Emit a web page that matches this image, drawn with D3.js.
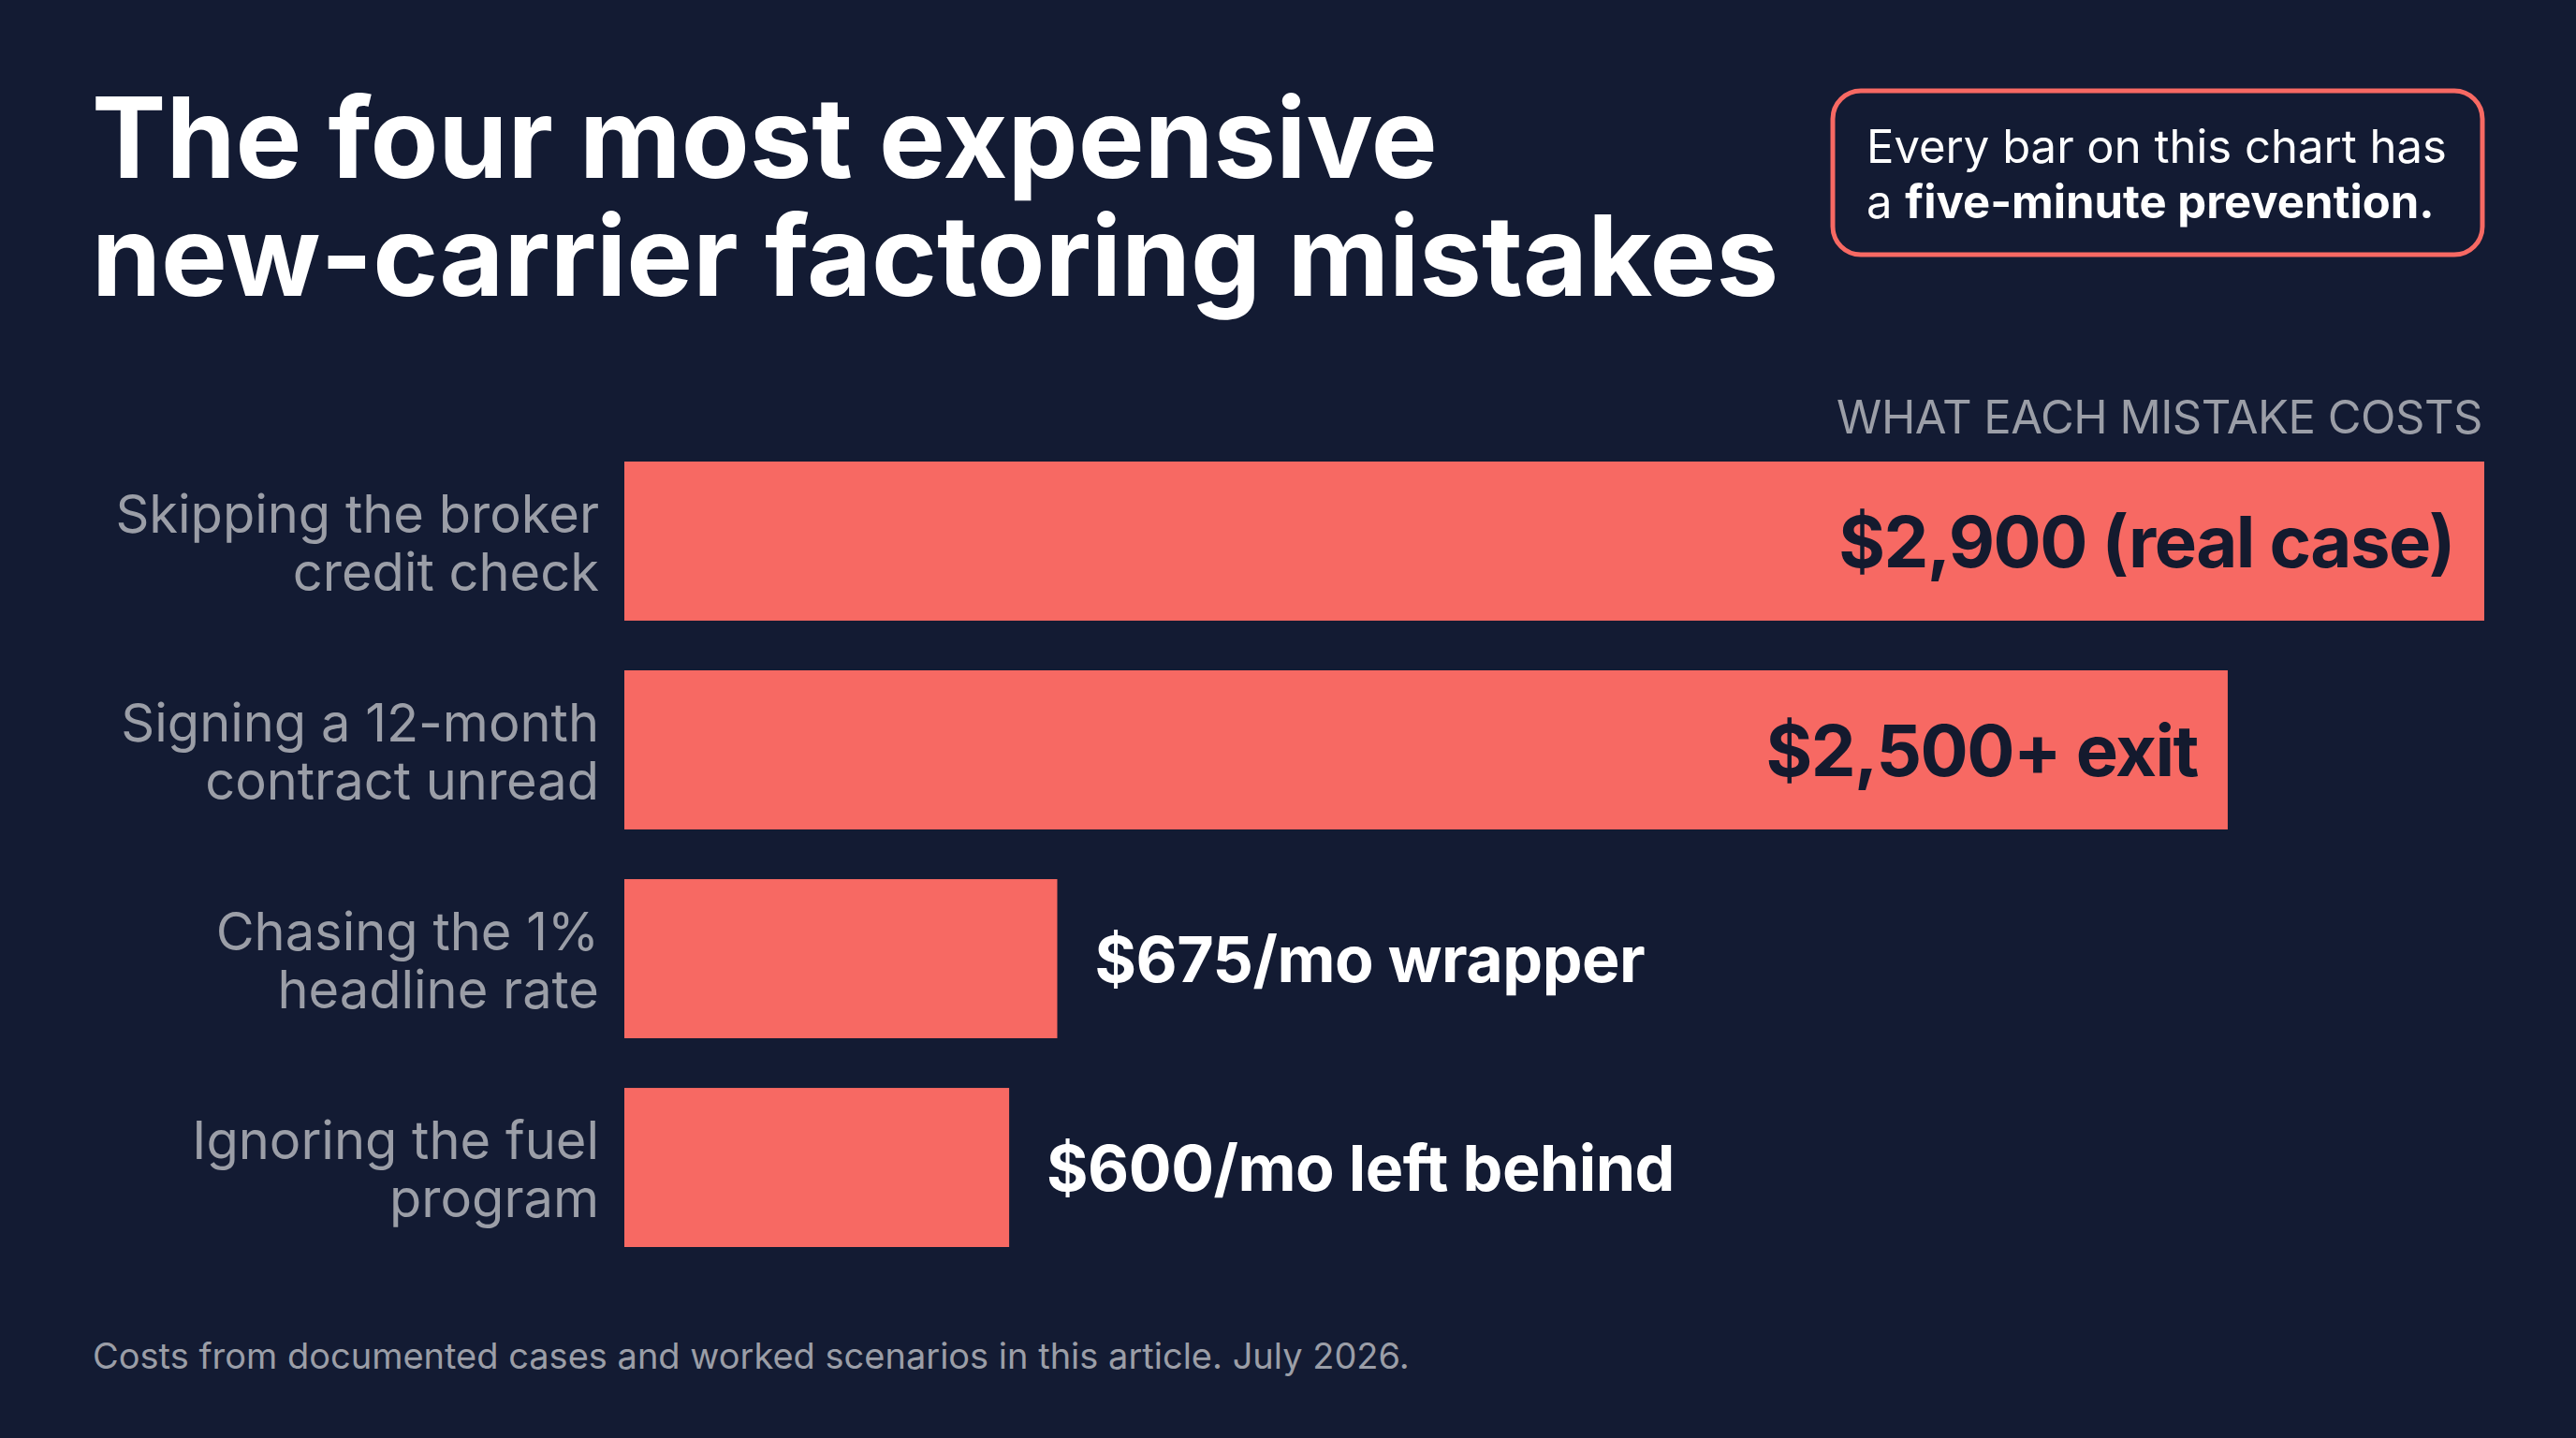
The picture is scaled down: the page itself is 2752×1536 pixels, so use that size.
<!DOCTYPE html>
<html>
<head>
<meta charset="utf-8">
<script src="https://cdn.jsdelivr.net/npm/d3@7"></script>
<style>
  html, body { margin: 0; padding: 0; background: #131b33; }
  svg { display: block; font-family: Inter, 'Noto Sans', sans-serif; }
</style>
</head>
<body>
<div id="chart"></div>
<script>
const w = 2752;
const h = 1536;

// data
const categories = [
  ['Skipping the broker', 'credit check'],
  ['Signing a 12-month', 'contract unread'],
  ['Chasing the 1%', 'headline rate'],
  ['Ignoring the fuel', 'program']
];
const costs = [2900, 2500, 675, 600];
const valueLabels = ['$2,900 (real case)', '$2,500+ exit', '$675/mo wrapper', '$600/mo left behind'];
const titleLines = ['The four most expensive', 'new-carrier factoring mistakes'];

const coral = '#f76963';
const navy = '#131b33';
const grey = '#9b9ea7';

const svg = d3.select('#chart')
  .append('svg')
  .attr('width', w)
  .attr('height', h);

svg.append('rect')
  .attr('width', w)
  .attr('height', h)
  .attr('fill', navy);

//title, one text element with a tspan per line
svg.append('text')
  .attr('fill', '#ffffff')
  .style('font-size', '119px')
  .style('font-weight', 700)
  .selectAll('tspan')
  .data(titleLines)
  .enter()
  .append('tspan')
  .attr('x', 98)
  .attr('y', (d, i) => 190 + i * 126)
  .text((d) => d);

//callout box
svg.append('rect')
  .attr('x', 1958)
  .attr('y', 97)
  .attr('width', 694)
  .attr('height', 175)
  .attr('rx', 30)
  .attr('fill', 'none')
  .attr('stroke', coral)
  .attr('stroke-width', 5);

svg.append('text')
  .attr('x', 1994)
  .attr('y', 174)
  .attr('fill', '#ffffff')
  .style('font-size', '49px')
  .text('Every bar on this chart has');

const line2 = svg.append('text')
  .attr('x', 1994)
  .attr('y', 233)
  .attr('fill', '#ffffff')
  .style('font-size', '49px');
line2.append('tspan').text('a ');
line2.append('tspan').style('font-weight', 700).text('five-minute prevention.');

//scales
const xScale = d3.scaleLinear()
  .domain([0, d3.max(costs)])
  .range([667, 2654]);

const yScale = d3.scaleBand()
  .domain(d3.range(costs.length))
  .range([493, 1332])
  .paddingInner(0.238)
  .paddingOuter(0);

//header above bars
svg.append('text')
  .attr('x', 2652)
  .attr('y', 463)
  .attr('text-anchor', 'end')
  .attr('fill', grey)
  .style('font-size', '49px')
  .style('letter-spacing', '-0.5px')
  .text('WHAT EACH MISTAKE COSTS');

//bars
svg.selectAll('.bar')
  .data(costs)
  .enter()
  .append('rect')
  .attr('class', 'bar')
  .attr('x', xScale(0))
  .attr('y', (d, i) => yScale(i))
  .attr('width', (d) => xScale(d) - xScale(0))
  .attr('height', yScale.bandwidth())
  .attr('fill', coral);

//category labels
const cat = svg.selectAll('.cat')
  .data(categories)
  .enter()
  .append('text')
  .attr('class', 'cat')
  .attr('text-anchor', 'end')
  .attr('fill', grey)
  .style('font-size', '56px');

cat.selectAll('tspan')
  .data((d, i) => d.map((t, j) => ({ t: t, i: i, j: j })))
  .enter()
  .append('tspan')
  .attr('x', 640)
  .attr('y', (d) => yScale(d.i) + yScale.bandwidth() / 2 - 9 + d.j * 62)
  .text((d) => d.t);

//value labels, inside the long bars, outside the short ones
const inside = (d) => d > 1500;

svg.selectAll('.val')
  .data(costs)
  .enter()
  .append('text')
  .attr('class', 'val')
  .attr('x', (d) => inside(d) ? xScale(d) - 32 : xScale(d) + 40)
  .attr('y', (d, i) => yScale(i) + yScale.bandwidth() / 2 + (inside(d) ? 28 : 25))
  .attr('text-anchor', (d) => inside(d) ? 'end' : 'start')
  .attr('fill', (d) => inside(d) ? '#141a2e' : '#ffffff')
  .style('font-size', (d) => inside(d) ? '76px' : '68px')
  .style('font-weight', 700)
  .style('letter-spacing', (d) => inside(d) ? '-1.5px' : '-0.5px')
  .text((d, i) => valueLabels[i]);

//footer
svg.append('text')
  .attr('x', 99)
  .attr('y', 1462)
  .attr('fill', grey)
  .style('font-size', '38px')
  .text('Costs from documented cases and worked scenarios in this article. July 2026.');
</script>
</body>
</html>
